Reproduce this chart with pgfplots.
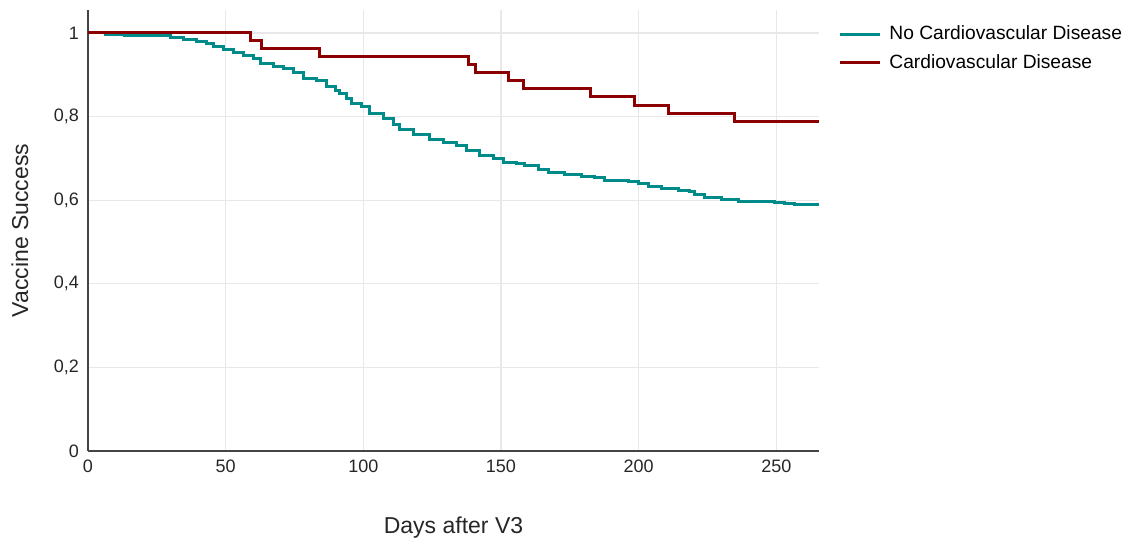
\documentclass[border=0pt]{standalone}
\usepackage{fontspec}
\setmainfont{Liberation Sans}
\usepackage{pgfplots}
\pgfplotsset{compat=1.18}

\definecolor{nocvd}{RGB}{0,139,139}
\definecolor{cvd}{RGB}{139,0,0}
\definecolor{axisgray}{RGB}{68,68,68}
\definecolor{gridgray}{RGB}{232,232,232}

\begin{document}
\begin{tikzpicture}
\path[use as bounding box] (-44pt,-44.5pt) rectangle (521pt,225.5pt);
\begin{axis}[
  at={(0,0)}, anchor=south west,
  scale only axis,
  width=365.5pt, height=220.5pt,
  xmin=0, xmax=265.5,
  ymin=0, ymax=1.055,
  axis lines=left,
  axis line style={-, draw=axisgray, line width=0.8pt},
  xtick={0,50,100,150,200,250},
  ytick={0,0.2,0.4,0.6,0.8,1},
  major tick length=0pt,
  grid=major,
  major grid style={draw=gridgray, line width=0.6pt},
  tick label style={font=\fontsize{9}{10}\selectfont, text=black!85},
  /pgf/number format/assume math mode=true,
  /pgf/number format/use comma,
  xticklabel style={yshift=-1pt},
  yticklabel style={xshift=-1pt},
  xlabel={Days after V3},
  ylabel={Vaccine Success},
  label style={font=\fontsize{11.5}{13}\selectfont, text=black!85},
  xlabel style={at={(axis description cs:0.5,-0.1746)}, anchor=center},
  ylabel style={at={(axis description cs:-0.093,0.5)}, anchor=center},
  legend style={at={(axis description cs:1.026,0.974)}, anchor=north west,
    draw=none, fill=none, font=\fontsize{9.6}{11}\selectfont,
    row sep=1.7pt, inner sep=0pt},
  legend cell align=left,
  legend image code/.code={\draw[#1] (0pt,0pt) -- (20pt,0pt); \path (22pt,0pt);},
]
% Kaplan-Meier curve, patients without cardiovascular disease
\addplot[const plot mark left, color=nocvd, line width=1.5pt] coordinates {
  (0,1.000) (6.2,0.997) (13.4,0.995) (22.5,0.993) (29.8,0.990) (34.6,0.985)
  (39.5,0.979) (43.1,0.974) (45.5,0.967) (49.1,0.961) (52.8,0.954) (56.4,0.947)
  (60.0,0.939) (62.5,0.927) (67.3,0.921) (70.9,0.915) (74.5,0.905) (78.2,0.892)
  (83.0,0.886) (86.7,0.872) (90.0,0.862) (91.5,0.856) (93.9,0.844) (95.7,0.832)
  (99.4,0.825) (102.4,0.808) (107.2,0.796) (110.9,0.780) (113.3,0.768) (118.1,0.758)
  (124.2,0.746) (129.0,0.738) (133.9,0.730) (137.5,0.718) (142.3,0.708) (147.2,0.699)
  (150.8,0.690) (155.7,0.687) (158.7,0.684) (163.5,0.674) (167.2,0.667) (173.2,0.662)
  (179.3,0.656) (184.1,0.655) (187.7,0.647) (196.2,0.644) (199.8,0.639) (203.5,0.632)
  (208.3,0.627) (214.4,0.623) (218.6,0.620) (220.4,0.614) (224.0,0.607) (230.1,0.602)
  (236.1,0.597) (242.2,0.596) (249.5,0.594) (253.1,0.592) (256.7,0.589) (265.5,0.589)
};
\addlegendentry{No Cardiovascular Disease}
% Kaplan-Meier curve, patients with cardiovascular disease
\addplot[const plot mark left, color=cvd, line width=1.5pt] coordinates {
  (0,1.000) (59.1,0.981) (63.1,0.962) (84.0,0.943) (138.2,0.924) (140.8,0.905)
  (152.6,0.886) (158.3,0.866) (182.5,0.847) (198.4,0.827) (210.7,0.807)
  (234.9,0.788) (265.5,0.788)
};
\addlegendentry{Cardiovascular Disease}
\end{axis}
\end{tikzpicture}
\end{document}
